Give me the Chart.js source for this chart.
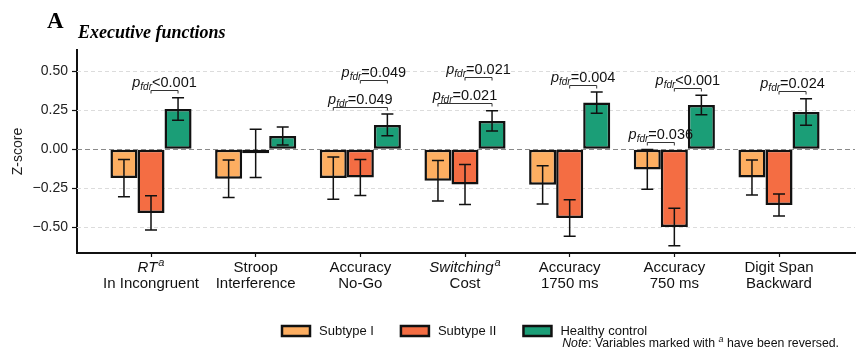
<!DOCTYPE html>
<html lang="en">
<head>
  <meta charset="UTF-8">
  <title>Executive functions - Z-scores</title>
  <script src="https://cdn.jsdelivr.net/npm/chart.js"></script>
  <style>
    html, body { margin: 0; padding: 0; background: #fff; }
    #wrap { width: 856px; height: 352px; }
  </style>
</head>
<body>
  <div id="wrap"><canvas id="efChart"></canvas></div>
  <script>
    // Tasks (first line may carry a superscript "a" = reversed variable)
    const groupLabels = [
      ['RT^a', 'In Incongruent'],
      ['Stroop', 'Interference'],
      ['Accuracy', 'No-Go'],
      ['Switching^a', 'Cost'],
      ['Accuracy', '1750 ms'],
      ['Accuracy', '750 ms'],
      ['Digit Span', 'Backward']
    ];

    const seriesNames = ['Subtype I', 'Subtype II', 'Healthy control'];
    const seriesColors = ['#FDAE61', '#F46D43', '#1B9E77'];

    // mean z-scores and standard errors
    const subtype1 = [-0.186, -0.190, -0.186, -0.203, -0.229, -0.130, -0.182];
    const subtype1Err = [0.120, 0.120, 0.135, 0.130, 0.123, 0.128, 0.112];
    const subtype2 = [-0.410, -0.027, -0.182, -0.227, -0.442, -0.500, -0.359];
    const subtype2Err = [0.110, 0.155, 0.115, 0.128, 0.117, 0.121, 0.071];
    const healthy = [0.258, 0.085, 0.156, 0.181, 0.299, 0.284, 0.239];
    const healthyErr = [0.073, 0.058, 0.070, 0.065, 0.068, 0.063, 0.085];

    const yTicks = [-0.5, -0.25, 0, 0.25, 0.5];

    // significant pairwise comparisons (group, bar a, bar b, p label)
    const comparisons = [
      { group: 0, a: 1, b: 2, p: '<0.001' },
      { group: 2, a: 0, b: 2, p: '=0.049' },
      { group: 2, a: 1, b: 2, p: '=0.049' },
      { group: 3, a: 0, b: 2, p: '=0.021' },
      { group: 3, a: 1, b: 2, p: '=0.021' },
      { group: 4, a: 1, b: 2, p: '=0.004' },
      { group: 5, a: 0, b: 1, p: '=0.036' },
      { group: 5, a: 1, b: 2, p: '<0.001' },
      { group: 6, a: 1, b: 2, p: '=0.024' }
    ];

    const SANS = '"Liberation Sans", Arial, sans-serif';
    const SERIF = '"Liberation Serif", "Times New Roman", serif';

    const means = [subtype1, subtype2, healthy];
    const errs = [subtype1Err, subtype2Err, healthyErr];

    const datasets = means.map((vals, d) => ({
      label: seriesNames[d],
      data: vals.map((v, i) => ({ x: i, y: v })),
      backgroundColor: seriesColors[d],
      borderColor: '#111',
      borderWidth: 2.5,
      borderSkipped: false,
      categoryPercentage: 0.775,
      barPercentage: 1.0
    }));

    // draw text with an optional "^a" superscript, centred on x
    function drawLabel(ctx, text, x, y, size, italic) {
      let main = text, sup = '';
      if (text.endsWith('^a')) { main = text.slice(0, -2); sup = 'a'; }
      const mainFont = (italic ? 'italic ' : '') + size + 'px ' + SANS;
      const supFont = 'italic ' + Math.round(size * 0.7) + 'px ' + SANS;
      ctx.font = mainFont;
      const w1 = ctx.measureText(main).width;
      ctx.font = supFont;
      const w2 = sup ? ctx.measureText(sup).width + 1 : 0;
      let x0 = x - (w1 + w2) / 2;
      ctx.textAlign = 'left';
      ctx.textBaseline = 'middle';
      ctx.font = mainFont;
      ctx.fillText(main, x0, y);
      if (sup) {
        ctx.font = supFont;
        ctx.fillText(sup, x0 + w1 + 1, y - 5);
      }
    }

    const decorPlugin = {
      id: 'decor',
      beforeDatasetsDraw(chart) {
        const { ctx, chartArea, scales: { y } } = chart;
        ctx.save();
        ctx.strokeStyle = '#dcdcdc';
        ctx.lineWidth = 1;
        ctx.setLineDash([4, 3]);
        yTicks.forEach(v => {
          if (v === 0) return;
          const py = Math.round(y.getPixelForValue(v)) + 0.5;
          ctx.beginPath();
          ctx.moveTo(chartArea.left, py);
          ctx.lineTo(chartArea.right, py);
          ctx.stroke();
        });
        ctx.restore();
      },
      afterDatasetsDraw(chart) {
        const { ctx, chartArea, scales: { x, y } } = chart;
        ctx.save();

        // zero reference line
        ctx.strokeStyle = '#8a8a8a';
        ctx.lineWidth = 1;
        ctx.setLineDash([5, 3]);
        const py0 = Math.round(y.getPixelForValue(0)) + 0.5;
        ctx.beginPath();
        ctx.moveTo(chartArea.left, py0);
        ctx.lineTo(chartArea.right, py0);
        ctx.stroke();
        ctx.setLineDash([]);

        // error bars
        ctx.strokeStyle = '#111';
        ctx.lineWidth = 1.5;
        means.forEach((vals, d) => {
          const meta = chart.getDatasetMeta(d);
          vals.forEach((v, i) => {
            const bx = meta.data[i].x;
            const top = y.getPixelForValue(v + errs[d][i]);
            const bot = y.getPixelForValue(v - errs[d][i]);
            ctx.beginPath();
            ctx.moveTo(bx, top); ctx.lineTo(bx, bot);
            ctx.moveTo(bx - 6, top); ctx.lineTo(bx + 6, top);
            ctx.moveTo(bx - 6, bot); ctx.lineTo(bx + 6, bot);
            ctx.stroke();
          });
        });

        // significance brackets
        const placed = [];
        comparisons.forEach(c => {
          let level = 0;
          placed.forEach(p => {
            if (p.group === c.group && c.a < p.b && p.a < c.b) level = Math.max(level, p.level + 1);
          });
          placed.push({ ...c, level });
          let maxTop = -Infinity;
          for (let d = c.a; d <= c.b; d++) {
            maxTop = Math.max(maxTop, means[d][c.group] + errs[d][c.group]);
          }
          const yv = maxTop + 0.048 + level * 0.17;
          const by = Math.round(y.getPixelForValue(yv)) + 0.5;
          const xa = chart.getDatasetMeta(c.a).data[c.group].x;
          const xb = chart.getDatasetMeta(c.b).data[c.group].x;
          ctx.strokeStyle = '#333';
          ctx.lineWidth = 1;
          ctx.beginPath();
          ctx.moveTo(xa, by + 3); ctx.lineTo(xa, by); ctx.lineTo(xb, by); ctx.lineTo(xb, by + 3);
          ctx.stroke();

          // p_fdr label
          const mainF = '14.5px ' + SANS;
          const pF = 'italic 14.5px ' + SANS;
          const subF = 'italic 10px ' + SANS;
          ctx.font = pF; const wp = ctx.measureText('p').width;
          ctx.font = subF; const ws = ctx.measureText('fdr').width;
          ctx.font = mainF; const wm = ctx.measureText(c.p).width;
          let tx = (xa + xb) / 2 - (wp + ws + wm) / 2;
          const base = by - 4;
          ctx.fillStyle = '#111';
          ctx.textAlign = 'left';
          ctx.textBaseline = 'alphabetic';
          ctx.font = pF; ctx.fillText('p', tx, base); tx += wp;
          ctx.font = subF; ctx.fillText('fdr', tx, base + 3); tx += ws;
          ctx.font = mainF; ctx.fillText(c.p, tx, base);
        });

        // x category labels
        ctx.fillStyle = '#111';
        groupLabels.forEach((lines, i) => {
          const cx = x.getPixelForValue(i);
          const italic = lines[0].endsWith('^a');
          drawLabel(ctx, lines[0], cx, chartArea.bottom + 15, 15, italic);
          drawLabel(ctx, lines[1], cx, chartArea.bottom + 31, 15, false);
        });
        ctx.restore();
      },
      afterDraw(chart) {
        const { ctx } = chart;
        ctx.save();
        ctx.fillStyle = '#000';
        ctx.textAlign = 'left';
        ctx.textBaseline = 'alphabetic';
        ctx.font = 'bold 23px ' + SERIF;
        ctx.fillText('A', 47, 28);
        ctx.font = 'bold italic 18px ' + SERIF;
        ctx.fillText('Executive functions', 78, 38);

        // legend
        let lx = 282;
        const ly = 326;
        ctx.font = '13px ' + SANS;
        ctx.textBaseline = 'middle';
        seriesNames.forEach((name, d) => {
          ctx.fillStyle = seriesColors[d];
          ctx.fillRect(lx, ly, 28, 10);
          ctx.strokeStyle = '#111';
          ctx.lineWidth = 2.5;
          ctx.strokeRect(lx, ly, 28, 10);
          ctx.fillStyle = '#111';
          ctx.fillText(name, lx + 37, ly + 5);
          lx += 37 + ctx.measureText(name).width + 27;
        });

        // note, right aligned
        const parts = [
          { t: 'Note', f: 'italic 12.3px ' + SANS, dy: 0 },
          { t: ': Variables marked with ', f: '12.3px ' + SANS, dy: 0 },
          { t: 'a', f: 'italic 9px ' + SANS, dy: -5 },
          { t: ' have been reversed.', f: '12.3px ' + SANS, dy: 0 }
        ];
        let total = 0;
        parts.forEach(p => { ctx.font = p.f; p.w = ctx.measureText(p.t).width; total += p.w; });
        let nx = 839 - total;
        ctx.textBaseline = 'alphabetic';
        parts.forEach(p => {
          ctx.font = p.f;
          ctx.fillText(p.t, nx, 347 + p.dy);
          nx += p.w;
        });
        ctx.restore();
      }
    };

    new Chart(document.getElementById('efChart'), {
      type: 'bar',
      data: { datasets },
      options: {
        responsive: true,
        maintainAspectRatio: false,
        animation: false,
        layout: { padding: { top: 50, right: 1, left: 0, bottom: 0 } },
        plugins: {
          legend: { display: false },
          tooltip: { enabled: false }
        },
        scales: {
          x: {
            type: 'linear',
            min: -0.707,
            max: 6.726,
            offset: false,
            afterBuildTicks: s => { s.ticks = groupLabels.map((_, i) => ({ value: i })); },
            afterFit: s => { s.height = 99; },
            ticks: { display: false },
            grid: { offset: false, drawOnChartArea: false, drawTicks: true, tickLength: 4, tickColor: '#111', tickWidth: 1.2 },
            border: { color: '#111', width: 2 }
          },
          y: {
            min: -0.667,
            max: 0.637,
            afterBuildTicks: s => { s.ticks = yTicks.map(v => ({ value: v })); },
            afterFit: s => { s.width = 77; },
            ticks: {
              color: '#222',
              padding: 4,
              font: { family: SANS, size: 14 },
              callback: v => v.toFixed(2).replace('-', '\u2212')
            },
            grid: { drawOnChartArea: false, drawTicks: true, tickLength: 5, tickColor: '#111', tickWidth: 1.2 },
            border: { color: '#111', width: 2 },
            title: {
              display: true,
              text: 'Z-score',
              color: '#222',
              font: { family: SANS, size: 14 },
              padding: { top: 10, bottom: 0 }
            }
          }
        }
      },
      plugins: [decorPlugin]
    });
  </script>
</body>
</html>
